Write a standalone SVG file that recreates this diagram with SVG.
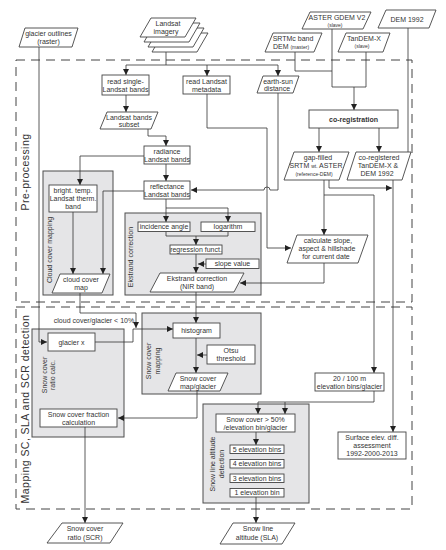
<svg xmlns="http://www.w3.org/2000/svg" width="446" height="550" viewBox="0 0 446 550">
<defs>
<style>
text{font-family:"Liberation Sans",Arial,sans-serif;font-size:7px;fill:#333;text-anchor:middle}
.sm{font-size:5px}
.b{font-weight:bold}
.lbl{font-size:10.5px;letter-spacing:0.45px;fill:#333}
.gl{font-size:7px}
.box{fill:#fff;stroke:#444;stroke-width:0.9}
.gray{fill:#e5e5e7;stroke:#4d4d4d;stroke-width:1}
.dash{fill:none;stroke:#444;stroke-width:1;stroke-dasharray:9 6}
.c{fill:none;stroke:#333;stroke-width:0.8}
.a{marker-end:url(#ah)}
</style>
<marker id="ah" viewBox="0 0 10 10" refX="10" refY="5" markerWidth="6" markerHeight="6" markerUnits="userSpaceOnUse" orient="auto">
<path d="M0,0 L10,5 L0,10 z" fill="#222"/>
</marker>
</defs>
<rect width="446" height="550" fill="#fff"/>

<!-- section boundaries -->
<g id="sections">
<rect class="dash" x="16" y="60" width="396" height="242"/>
<rect class="dash" x="16" y="307" width="396" height="202"/>
<text class="lbl" transform="translate(28.5,172) rotate(-90)">Pre-processing</text>
<text class="lbl" transform="translate(28.5,409) rotate(-90)">Mapping SC, SLA and SCR detection</text>
</g>

<!-- gray groups -->
<g id="grp-cloud"><rect class="gray" x="43" y="171" width="70" height="124"/><text class="gl" transform="translate(52,250) rotate(-90)">Cloud cover mapping</text></g>
<g id="grp-ekstrand"><rect class="gray" x="125" y="213" width="136" height="82"/><text class="gl" transform="translate(133,257) rotate(-90)">Ekstrand correction</text></g>
<g id="grp-scm"><rect class="gray" x="142" y="313" width="119" height="81"/><text class="gl" transform="translate(151,361) rotate(-90)">Snow cover</text><text class="gl" transform="translate(160,361) rotate(-90)">mapping</text></g>
<g id="grp-scr"><rect class="gray" x="32" y="329" width="92" height="108"/><text class="gl" transform="translate(47,375) rotate(-90)">Snow cover</text><text class="gl" transform="translate(55,375) rotate(-90)">ratio calc.</text></g>
<g id="grp-sla"><rect class="gray" x="203" y="404" width="106" height="99"/><text class="gl" transform="translate(215,464) rotate(-90)">Snow line altitude</text><text class="gl" transform="translate(224,464) rotate(-90)">detection</text></g>

<!-- connectors -->
<g id="connectors">
<path class="c" d="M39,47 V342 H47" marker-end="url(#ah)"/>
<path class="c" d="M166,52 V65 M126,65 H278"/>
<path class="c a" d="M126,65 V75"/>
<path class="c a" d="M207,65 V76"/>
<path class="c a" d="M278,65 V76"/>
<path class="c a" d="M126,95 V112"/>
<path class="c a" d="M148,129 V136 H166 V146"/>
<path class="c a" d="M166,164 V181"/>
<path class="c a" d="M145,156 H80 V185"/>
<path class="c a" d="M145,191 H103 V274"/>
<path class="c a" d="M73,212 V274"/>
<path class="c" d="M166,199 V208 H228"/>
<path class="c a" d="M166,208 V222"/>
<path class="c a" d="M228,208 V222"/>
<path class="c" d="M166,231 V236 H228 V231"/>
<path class="c a" d="M196,236 V245"/>
<path class="c a" d="M196,254 V273"/>
<path class="c a" d="M206,264 H198"/>
<path class="c a" d="M207,94 V128 H267 V248 H291"/>
<path class="c a" d="M278,93 V190 H270 A3,3 0 0,0 264,190 H191"/>
<path class="c" d="M295,52 V71 H332"/>
<path class="c" d="M332,29 V87 H366 V52"/>
<path class="c a" d="M354,87 V110"/>
<path class="c a" d="M319,128 V152"/>
<path class="c a" d="M379,128 V152"/>
<path class="c" d="M408,28 V152"/>
<path class="c a" d="M329,180 V188 H392"/>
<path class="c a" d="M324,180 V235"/>
<path class="c a" d="M324,195 H374 V373"/>
<path class="c a" d="M393,180 V432"/>
<path class="c a" d="M324,263 V283 H240"/>
<path class="c a" d="M196,292 V323"/>
<path class="c a" d="M80,293 V313 H136 V328"/>
<path class="c a" d="M95,342 H133 V329 H173"/>
<path class="c a" d="M196,338 V373"/>
<path class="c a" d="M207,355 H197"/>
<path class="c a" d="M197,391 V418 H118"/>
<path class="c a" d="M374,391 V402 H258 V414"/>
<path class="c a" d="M285,402 V414"/>
<path class="c a" d="M256,432 V445"/>
<path class="c a" d="M256,497 V523"/>
<path class="c a" d="M85,427 V523"/>
</g>

<!-- nodes -->
<g id="glacier-outlines"><polygon class="box" points="25,28 78,28 72,47 19,47"/><text x="48.5" y="36">glacier outlines</text><text x="48.5" y="44">(raster)</text></g>
<g id="landsat-imagery">
<polygon class="box" points="163,33 208,33 197,52 152,52"/>
<polygon class="box" points="159,28 204,28 193,47 148,47"/>
<polygon class="box" points="155,23 200,23 189,42 144,42"/>
<polygon class="box" points="151,18 196,18 185,37 140,37"/>
<text x="168" y="26">Landsat</text><text x="166" y="34">imagery</text></g>
<g id="aster"><polygon class="box" points="310,12 371,12 363,29 302,29"/><text x="337" y="20">ASTER GDEM V2</text><text class="sm" x="335" y="27">(slave)</text></g>
<g id="srtm"><polygon class="box" points="273,33 322,33 314,52 265,52"/><text x="293" y="41">SRTMc band</text><text x="291" y="49">DEM <tspan class="sm">(master)</tspan></text></g>
<g id="tandem"><polygon class="box" points="346,33 390,33 383,52 338,52"/><text x="364" y="41">TanDEM-X</text><text class="sm" x="362" y="48">(slave)</text></g>
<g id="dem1992"><polygon class="box" points="386,10 436,10 429,28 378,28"/><text x="407" y="21.5">DEM 1992</text></g>
<g id="read-single"><rect class="box" x="102" y="75" width="47" height="20"/><text x="125.5" y="83.5">read single-</text><text x="125.5" y="92">Landsat bands</text></g>
<g id="read-meta"><rect class="box" x="183" y="76" width="47" height="18"/><text x="206.5" y="83.5">read Landsat</text><text x="206.5" y="91.5">metadata</text></g>
<g id="earth-sun"><polygon class="box" points="263,76 299,76 293,93 257,93"/><text x="278" y="83.5">earth-sun</text><text x="277" y="91">distance</text></g>
<g id="subset"><polygon class="box" points="107,112 158,112 151,129 100,129"/><text x="129" y="119.5">Landsat bands</text><text x="129" y="127">subset</text></g>
<g id="coreg"><rect class="box" x="309" y="110" width="89" height="18"/><text class="b" x="353.5" y="121.5">co-registration</text></g>
<g id="radiance"><rect class="box" x="144" y="146" width="46" height="18"/><text x="167" y="153.5">radiance</text><text x="167" y="161.5">Landsat bands</text></g>
<g id="reflectance"><rect class="box" x="144" y="181" width="46" height="18"/><text x="167" y="188.5">reflectance</text><text x="167" y="196.5">Landsat bands</text></g>
<g id="gap-filled"><polygon class="box" points="294,152 349,152 339,180 284,180"/><text x="318" y="160">gap-filled</text><text x="316" y="168">SRTM <tspan class="sm">wt.</tspan> ASTER</text><text class="sm" x="314" y="176">(reference-DEM)</text></g>
<g id="co-registered"><polygon class="box" points="356,152 411,152 402,180 347,180"/><text x="379" y="160">co-registered</text><text x="378" y="168">TanDEM-X &amp;</text><text x="377" y="176">DEM 1992</text></g>
<g id="bright-temp"><rect class="box" x="49" y="185" width="48" height="27"/><text x="73" y="192.5">bright. temp.</text><text x="73" y="200.5">Landsat therm.</text><text x="73" y="208.5">band</text></g>
<g id="incidence"><rect class="box" x="138" y="222" width="52" height="9.5"/><text x="164" y="229">incidence angle</text></g>
<g id="logarithm"><rect class="box" x="201" y="222" width="54" height="9.5"/><text x="228" y="229">logarithm</text></g>
<g id="regression"><rect class="box" x="170" y="245" width="52" height="9"/><text x="196" y="252">regression funct.</text></g>
<g id="slope-value"><rect class="box" x="206" y="259" width="53" height="9.5"/><text x="232.5" y="266">slope value</text></g>
<g id="calc-slope"><polygon class="box" points="297,235 368,235 358,263 287,263"/><text x="328" y="243">calculate slope,</text><text x="327" y="251">aspect &amp; hillshade</text><text x="326" y="259">for current date</text></g>
<g id="cloud-map"><polygon class="box" points="60,274 110,274 102,293 52,293"/><text x="81" y="281.5">cloud cover</text><text x="81" y="290">map</text></g>
<g id="ekstrand-nir"><polygon class="box" points="160,273 244,273 234,292 150,292"/><text x="197" y="280.5">Ekstrand correction</text><text x="197" y="289">(NIR band)</text></g>
<text x="94" y="323">cloud cover/glacier &lt; 10%</text>
<g id="glacier-x"><rect class="box" x="48" y="333" width="47" height="18"/><text x="71.5" y="344.5">glacier x</text></g>
<g id="histogram"><rect class="box" x="173" y="323" width="47" height="15"/><text x="196.5" y="333">histogram</text></g>
<g id="otsu"><rect class="box" x="207" y="345" width="48" height="19"/><text x="231" y="352.5">Otsu</text><text x="231" y="361">threshold</text></g>
<g id="snow-map"><polygon class="box" points="176,373 228,373 220,391 168,391"/><text x="198" y="380.5">Snow cover</text><text x="198" y="388.5">map/glacier</text></g>
<g id="elev-bins"><rect class="box" x="315" y="373" width="69" height="18"/><text x="349.5" y="380.5">20 / 100 m</text><text x="349.5" y="388.5">elevation bins/glacier</text></g>
<g id="fraction"><rect class="box" x="40" y="409" width="77" height="18"/><text x="78.5" y="416.5">Snow cover fraction</text><text x="78.5" y="425">calculation</text></g>
<g id="snow50"><rect class="box" x="216" y="414" width="79" height="18"/><text x="255.5" y="421.5">Snow cover &gt; 50%</text><text x="255.5" y="429.5">/elevation bin/glacier</text></g>
<g id="bins5"><rect class="box" x="230" y="445" width="54" height="8.5"/><text x="257" y="451.5">5 elevation bins</text></g>
<g id="bins4"><rect class="box" x="230" y="459.5" width="54" height="8.5"/><text x="257" y="466">4 elevation bins</text></g>
<g id="bins3"><rect class="box" x="230" y="474" width="54" height="8.5"/><text x="257" y="480.5">3 elevation bins</text></g>
<g id="bins1"><rect class="box" x="230" y="488.5" width="54" height="8.5"/><text x="257" y="495">1 elevation bin</text></g>
<g id="surface"><rect class="box" x="338" y="432" width="68" height="27"/><text x="372" y="439.5">Surface elev. diff.</text><text x="372" y="447.5">assessment</text><text x="372" y="455.5">1992-2000-2013</text></g>
<g id="scr"><polygon class="box" points="62,523 123,523 110,543 47,543"/><text x="85" y="531">Snow cover</text><text x="85" y="540">ratio (SCR)</text></g>
<g id="sla"><polygon class="box" points="233,523 295,523 282,544 220,544"/><text x="258" y="531">Snow line</text><text x="257" y="540">altitude (SLA)</text></g>
</svg>
